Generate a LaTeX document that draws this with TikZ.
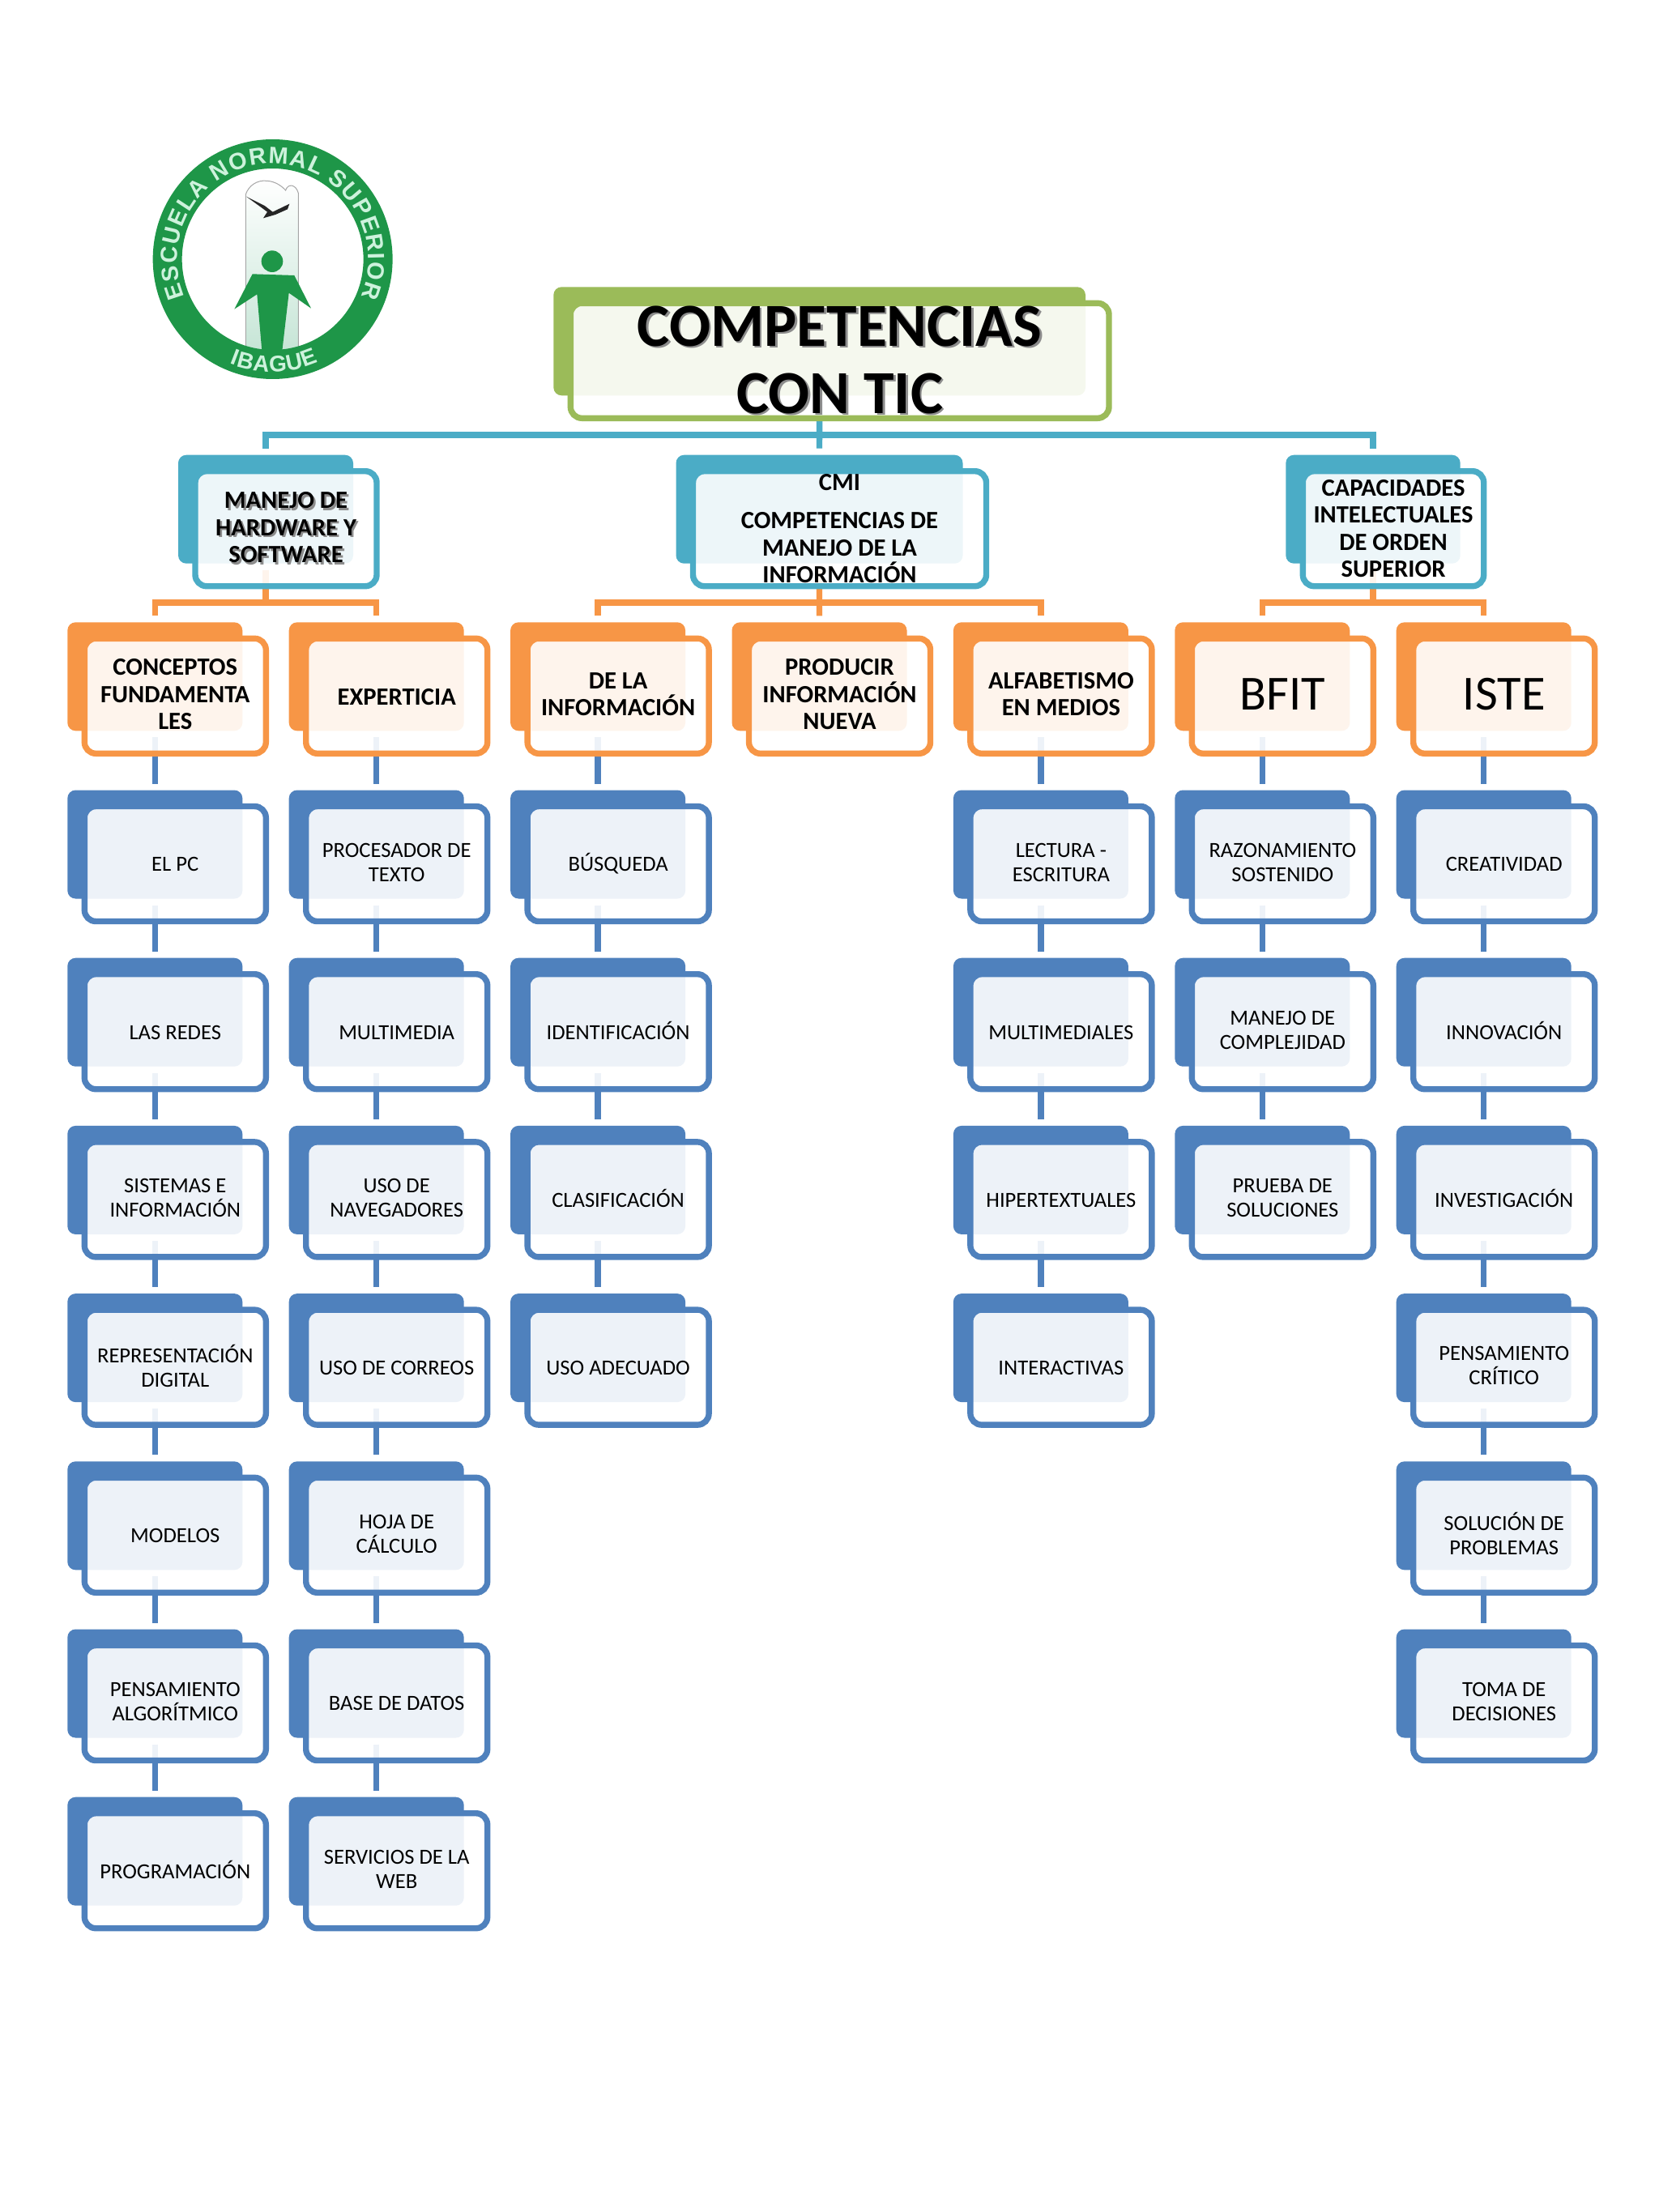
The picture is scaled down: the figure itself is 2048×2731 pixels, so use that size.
\documentclass[tikz,border=0pt]{standalone}
\usepackage{xcolor}
\usepackage{fontspec}
\setmainfont{Carlito}
\newfontfamily\logofont{Liberation Sans}
\usetikzlibrary{positioning,backgrounds,decorations.text}
\definecolor{greenc}{HTML}{9BBB59}
\definecolor{tealc}{HTML}{4BACC6}
\definecolor{orangec}{HTML}{F79646}
\definecolor{bluec}{HTML}{4F81BD}
\definecolor{logogreen}{HTML}{1E9648}
\definecolor{logopale}{HTML}{C6E5D6}
\definecolor{logotext}{HTML}{CDF2DC}
\newcommand{\shtext}[1]{\leavevmode\rlap{\kern2.5pt\raisebox{-2.5pt}{\color{black!45}#1}}#1}
\newcommand{\bigfont}{\fontsize{60.5}{64}\selectfont\mdseries}

\begin{document}
\begin{tikzpicture}[x=1pt,y=-1pt,
   tab/.style={fill=#1,rounded corners=10pt,outer sep=0pt,inner sep=0pt,minimum width=216pt,
               minimum height=134pt,anchor=north west},
   card/.style={draw=#1,line width=7.4pt,fill=white,fill opacity=0.9,text opacity=1,rounded corners=14pt,
               outer sep=0pt,inner sep=0pt,minimum width=224pt,minimum height=142pt,align=center},
   evenline/.style={execute at begin node={\rule[-.14\dimexpr#1\relax]{0pt}{.98\dimexpr#1\relax}},
               execute at end node={\rule[-.14\dimexpr#1\relax]{0pt}{0pt}}},
   smalltxt/.style={font=\fontsize{26.6}{30}\selectfont,evenline=26.6pt},
   boldtxt/.style={font=\fontsize{30.6}{33.5}\selectfont\bfseries},
   titletxt/.style={font=\fontsize{75.6}{83}\selectfont\bfseries,align=center,inner sep=0pt},
   conn/.style={draw=#1,line width=7.4pt,shorten <=8pt,shorten >=8pt}]
  \useasboundingbox (0,0) rectangle (2048,2731);

  % logo
  \begin{scope}[shift={(160,150)},x=0.3333pt,y=-0.3333pt]
    \shade[top color=white,middle color=logopale,bottom color=logopale,draw=gray!70,line width=1pt]
      (430,270) .. controls (440,240) and (470,215) .. (510,220) .. controls (540,222) and (565,240) .. (578,255)
      .. controls (585,230) and (615,230) .. (625,265) -- (625,850) -- (430,850) -- cycle;
    \fill[black!85] (432,278) -- (500,312) -- (530,335) -- (592,305) -- (585,325) -- (540,345)
      -- (495,358) -- (510,335) -- (490,320) -- cycle;
    \fill[logogreen] (528,518) circle (40);
    \fill[logogreen] (455,565) -- (610,570) -- (672,692) -- (590,635) -- (565,850) -- (490,850)
      -- (472,640) -- (388,695) -- cycle;
    \draw[logogreen,line width=36pt] (530,510) circle (390);
    \path[decorate,decoration={text along path,text align=fit to path,
      text={|\logofont\bfseries\fontsize{29}{29}\selectfont\color{logotext}|ESCUELA NORMAL SUPERIOR}}]
      (-203:354) ++(530,510) arc[start angle=-203,end angle=23,radius=354];
    \path[decorate,decoration={text along path,text align=fit to path,
      text={|\logofont\bfseries\fontsize{28}{28}\selectfont\color{logotext}|IBAGUE}}]
      (-247.5:418) ++(530,510) arc[start angle=-247.5,end angle=-294,radius=418];
  \end{scope}

  % title
  \node[tab=greenc,minimum width=656.7pt] (gt) at (683.3,354.3) {};
  \node[card=greenc,minimum width=664.7pt,below right=20pt and 21pt of gt.north west] (gf) {};
  \node[titletxt] (ttl) at (gf) {\shtext{COMPETENCIAS}\\\shtext{CON TIC}};

  % second level
  \foreach \nm/\xx/\ww/\txt in {
      m/220/216/{\shtext{MANEJO DE}\\\shtext{HARDWARE Y}\\\shtext{SOFTWARE}},
      c/834.5/354/{CMI\\[13.5pt]COMPETENCIAS DE\\MANEJO DE LA\\INFORMACIÓN},
      s/1587.3/215.4/{CAPACIDADES\\INTELECTUALES\\DE ORDEN\\SUPERIOR}} {
    \node[tab=tealc,minimum width=\ww pt] (t\nm) at (\xx,561.7) {};
    \node[card=tealc,boldtxt,minimum width=\ww pt+8pt,below right=20pt and 21pt of t\nm.north west] (f\nm) {\txt};
  }

  % third level
  \foreach \col/\txt in {0/{CONCEPTOS\\FUNDAMENTA\\LES},1/EXPERTICIA,2/{DE LA\\INFORMACIÓN},
      3/{PRODUCIR\\INFORMACIÓN\\NUEVA},4/{ALFABETISMO\\EN MEDIOS},5/{\bigfont BFIT},6/{\bigfont ISTE}} {
    \node[tab=orangec] (t\col0) at ({83.3+273.4*\col},768.3) {};
    \node[card=orangec,boldtxt,evenline=30.6pt,below right=20pt and 21pt of t\col0.north west] (f\col0) {\txt};
  }

  % lower boxes
  \foreach \col/\row/\txt in {
      0/1/EL PC,0/2/LAS REDES,0/3/{SISTEMAS E\\INFORMACIÓN},0/4/{REPRESENTACIÓN\\DIGITAL},
      0/5/MODELOS,0/6/{PENSAMIENTO\\ALGORÍTMICO},0/7/PROGRAMACIÓN,
      1/1/{PROCESADOR DE\\TEXTO},1/2/MULTIMEDIA,1/3/{USO DE\\NAVEGADORES},1/4/USO DE CORREOS,
      1/5/{HOJA DE\\CÁLCULO},1/6/BASE DE DATOS,1/7/{SERVICIOS DE LA\\WEB},
      2/1/BÚSQUEDA,2/2/IDENTIFICACIÓN,2/3/CLASIFICACIÓN,2/4/USO ADECUADO,
      4/1/{LECTURA -\\ESCRITURA},4/2/MULTIMEDIALES,4/3/HIPERTEXTUALES,4/4/INTERACTIVAS,
      5/1/{RAZONAMIENTO\\SOSTENIDO},5/2/{MANEJO DE\\COMPLEJIDAD},5/3/{PRUEBA DE\\SOLUCIONES},
      6/1/CREATIVIDAD,6/2/INNOVACIÓN,6/3/INVESTIGACIÓN,6/4/{PENSAMIENTO\\CRÍTICO},
      6/5/{SOLUCIÓN DE\\PROBLEMAS},6/6/{TOMA DE\\DECISIONES}} {
    \node[tab=bluec] (t\col\row) at ({83.3+273.4*\col},{768.3+207.2*\row}) {};
    \node[card=bluec,smalltxt,below right=20pt and 21pt of t\col\row.north west] (f\col\row) {\txt};
  }

  % connectors
  \begin{scope}[on background layer]
    \draw[conn=tealc] (gt.south) -- (tc.north);
    \draw[conn=tealc] (tm.north) -- ++(0,-24.7) -| (ts.north);
    \foreach \up/\lt/\rt in {tm/t00/t10,tc/t20/t40,ts/t50/t60} {
      \draw[conn=orangec] (\lt.north) -- ++(0,-24.5) -| (\rt.north);
      \draw[conn=orangec,shorten >=0pt] (\up.south) -- ++(0,48.1);
    }
    \draw[conn=orangec] (tc.south) -- (t30.north);
    \foreach \col/\last in {0/7,1/7,2/4,4/4,5/3,6/6}
      \foreach \row [count=\prev from 0] in {1,...,\last}
        \draw[conn=bluec] (t\col\prev.south) -- (t\col\row.north);
  \end{scope}
\end{tikzpicture}
\end{document}
